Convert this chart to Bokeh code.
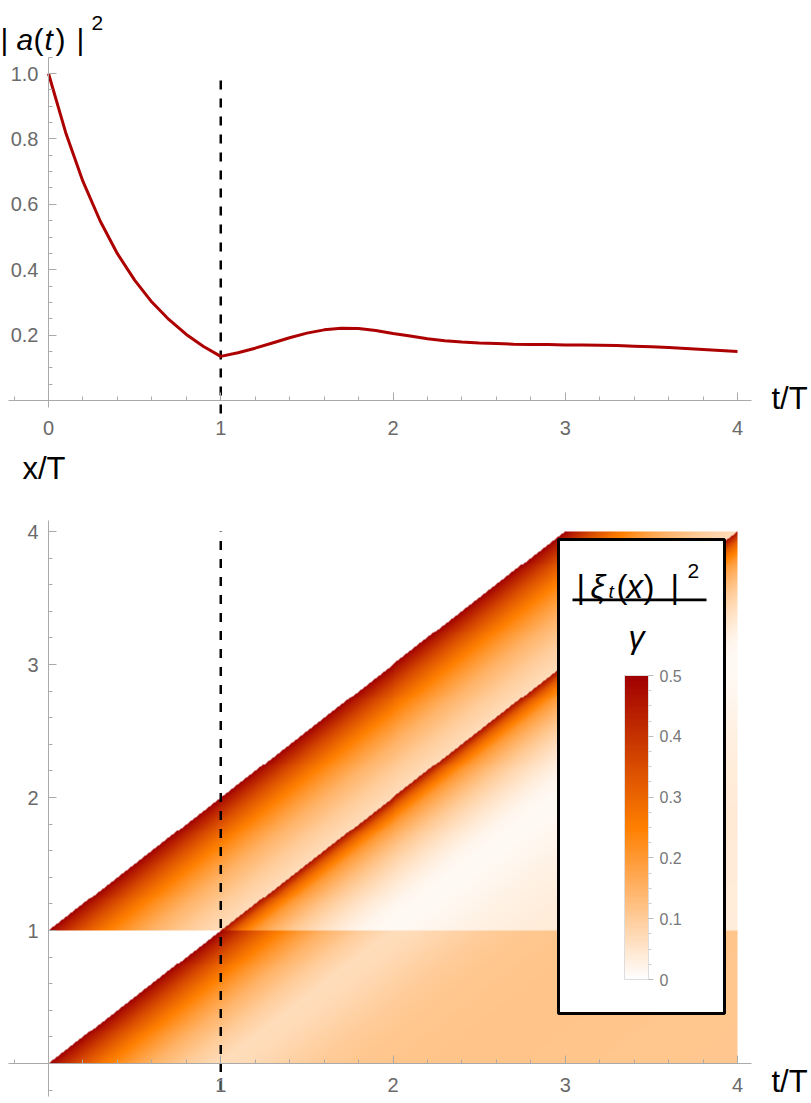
import numpy as np
from bokeh.plotting import figure
from bokeh.layouts import column
from bokeh.models import (Range1d, FixedTicker, LinearColorMapper, ColorBar,
                          BoxAnnotation, Label)
from bokeh.embed import file_html
from bokeh.resources import INLINE

# ---------------- data ----------------
t_curve = [0.0, 0.1, 0.2, 0.3, 0.4, 0.5, 0.6, 0.7, 0.8, 0.9, 1.0,
           1.1, 1.2, 1.3, 1.4, 1.5, 1.6, 1.7, 1.8, 1.9, 2.0,
           2.1, 2.2, 2.3, 2.4, 2.5, 2.6, 2.7, 2.8, 2.9, 3.0,
           3.1, 3.2, 3.3, 3.4, 3.5, 3.6, 3.7, 3.8, 3.9, 4.0]
a_sq = [1.000, 0.819, 0.670, 0.549, 0.449, 0.368, 0.301, 0.247, 0.202, 0.165, 0.135,
        0.146, 0.160, 0.176, 0.192, 0.206, 0.216, 0.221, 0.220, 0.214, 0.205,
        0.197, 0.189, 0.183, 0.179, 0.176, 0.174, 0.172, 0.171, 0.171, 0.170,
        0.170, 0.169, 0.168, 0.166, 0.164, 0.162, 0.159, 0.156, 0.153, 0.150]
delay_T = 1.0

# density |xi_t(x)|^2 / gamma as a function of the retardation (t - x) in each band
head_delay = [0.0, 0.05, 0.1, 0.15, 0.2, 0.3, 0.4, 0.5, 0.6, 0.7, 0.8, 0.9, 1.0]
head_density = [0.50, 0.45, 0.41, 0.37, 0.335, 0.275, 0.225, 0.185, 0.15, 0.125, 0.10, 0.083, 0.068]
lower_tail_delay = [1.0, 1.1, 1.2, 1.3, 1.4, 1.5, 1.6, 1.8, 2.0, 2.3, 2.6, 3.0, 3.5, 4.0]
lower_tail_density = [0.068, 0.070, 0.075, 0.082, 0.090, 0.097, 0.103, 0.110, 0.114, 0.116, 0.116, 0.114, 0.112, 0.110]
upper_tail_delay = [1.0, 1.03, 1.07, 1.12, 1.2, 1.3, 1.4, 1.5, 1.6, 1.7, 1.8, 1.9, 2.0, 2.1, 2.3, 2.5, 2.8, 3.1, 3.5, 4.0]
upper_tail_density = [0.47, 0.41, 0.33, 0.27, 0.20, 0.15, 0.11, 0.08, 0.055, 0.035, 0.02, 0.013, 0.012, 0.014, 0.022, 0.030, 0.038, 0.042, 0.040, 0.036]
t_max, x_max = 4.0, 4.0

top_xticks = [0, 1, 2, 3, 4]
top_yticks = [0.2, 0.4, 0.6, 0.8, 1.0]
bot_xticks = [1, 2, 3, 4]
bot_yticks = [1, 2, 3, 4]
cbar_ticks = [0.0, 0.1, 0.2, 0.3, 0.4, 0.5]
t_minor = [round(0.2 * k, 2) for k in range(-1, 21) if k % 5]
v_minor = [round(0.05 * k, 2) for k in range(0, 22) if k % 4]
x_minor = [round(0.2 * k, 2) for k in range(-1, 21) if k % 5]
cbar_minor = [round(0.025 * k, 3) for k in range(0, 21) if k % 4]

# ---------------- layout constants (reference pixels) ----------------
X0_PX, T_PX = 48.0, 172.25
TOP_Y0_PX, V_PX = 400.0, 327.0
BOT_Y0_PX, X_PX = 1063.0, 133.0
FIG_L, FIG_R = 0, 811
TOP_T, TOP_B = 0, 445
BOT_T, BOT_B = 445, 1103


def t_of(px):
    return (px - X0_PX) / T_PX


def v_of(py):
    return (TOP_Y0_PX - py) / V_PX


def x_of(py):
    return (BOT_Y0_PX - py) / X_PX


SANS = "Liberation Sans"
AX = "#aaaaaa"
TXT = "#6a6a6a"


def style_axis(ax, ticks, minor, bounds, standoff, overrides=None):
    ax.fixed_location = 0
    ax.ticker = FixedTicker(ticks=ticks, minor_ticks=minor)
    ax.bounds = bounds
    if overrides:
        ax.major_label_overrides = overrides
    ax.axis_line_color = AX
    ax.axis_line_width = 1
    ax.major_tick_line_color = AX
    ax.minor_tick_line_color = AX
    ax.major_tick_in = 8
    ax.major_tick_out = 0
    ax.minor_tick_in = 4
    ax.minor_tick_out = 0
    ax.major_label_text_color = TXT
    ax.major_label_text_font = SANS
    ax.major_label_text_font_size = "20px"
    ax.major_label_standoff = standoff


def lab(p, text, x, y, size, italic=False, align="left", baseline="alphabetic", color="black"):
    p.add_layout(Label(x=x, y=y, text=text, text_font=SANS, text_font_size=f"{size}px",
                       text_font_style="italic" if italic else "normal",
                       text_align=align, text_baseline=baseline, text_color=color))


# ---------------- top figure ----------------
top = figure(width=FIG_R - FIG_L, height=TOP_B - TOP_T,
             x_range=Range1d(t_of(FIG_L), t_of(FIG_R)),
             y_range=Range1d(v_of(TOP_B), v_of(TOP_T)),
             output_backend="svg", toolbar_location=None, min_border=0)
top.grid.visible = False
top.outline_line_color = None
style_axis(top.xaxis[0], top_xticks, t_minor, (-0.23, 4.08), 20)
style_axis(top.yaxis[0], top_yticks, v_minor, (-0.02, 1.05), 10,
           {0.2: "0.2", 0.4: "0.4", 0.6: "0.6", 0.8: "0.8", 1.0: "1.0"})

top.line([delay_T, delay_T], [-0.04, 0.99], line_color="black", line_width=2.5, line_dash="9 9")
top.line(t_curve, a_sq, line_color="#ad0000", line_width=3)

# y label |a(t)|^2
for txt, px, it in [("|", 0, False), ("a", 16, True), ("(", 33, False), ("t", 44, True),
                    (")", 55, False), ("|", 76, False)]:
    lab(top, txt, t_of(px), v_of(39), 30, italic=it)
lab(top, "2", t_of(91), v_of(22), 21)
lab(top, "t/T", t_of(771), v_of(398), 31, baseline="middle")

# ---------------- bottom figure ----------------
bot = figure(width=FIG_R - FIG_L, height=BOT_B - BOT_T,
             x_range=Range1d(t_of(FIG_L), t_of(FIG_R)),
             y_range=Range1d(x_of(BOT_B), x_of(BOT_T)),
             output_backend="svg", toolbar_location=None, min_border=0)
bot.grid.visible = False
bot.outline_line_color = None
style_axis(bot.xaxis[0], bot_xticks, t_minor, (-0.23, 4.08), 14)
style_axis(bot.yaxis[0], bot_yticks, x_minor, (-0.25, 4.08), 10)

# colour map white -> orange -> dark red
anchors = [(255, 255, 255), (255, 128, 0), (160, 0, 0)]
palette = []
for i in range(256):
    f = i / 255 * 2
    k = min(int(f), 1)
    u = f - k
    c = [round(anchors[k][j] + (anchors[k + 1][j] - anchors[k][j]) * u) for j in range(3)]
    palette.append("#%02x%02x%02x" % tuple(c))
mapper = LinearColorMapper(palette=palette, low=0.0, high=0.5, nan_color=(0, 0, 0, 0))

nx, ny = 690, 540
tc = (np.arange(nx) + 0.5) * t_max / nx
xc = (np.arange(ny) + 0.5) * x_max / ny
TT, XX = np.meshgrid(tc, xc)
dens = np.full(TT.shape, np.nan)
lower_delay = head_delay + lower_tail_delay[1:]
lower_dens = head_density + lower_tail_density[1:]
tau = TT - XX
m_low = (XX < 1) & (tau >= 0)
dens[m_low] = np.interp(tau[m_low], lower_delay, lower_dens)
sig = TT - XX + 1
m_uh = (XX >= 1) & (sig >= 0) & (sig < 1)
m_ut = (XX >= 1) & (sig >= 1)
dens[m_uh] = np.interp(sig[m_uh], head_delay, head_density)
dens[m_ut] = np.interp(sig[m_ut], upper_tail_delay, upper_tail_density)

bot.image(image=[dens.astype(np.float32)], x=0, y=0, dw=t_max, dh=x_max, color_mapper=mapper)
bot.line([delay_T, delay_T], [-0.2, 4.0], line_color="black", line_width=2.5, line_dash="9 9")

# legend box
bot.add_layout(BoxAnnotation(left=t_of(558), right=t_of(724), top=x_of(539), bottom=x_of(1013),
                             fill_color="white", fill_alpha=1.0,
                             line_color="black", line_alpha=1.0, line_width=3))
bot.add_layout(BoxAnnotation(left=t_of(572), right=t_of(706), top=x_of(598), bottom=x_of(600.7),
                             fill_color="black", fill_alpha=1.0, line_color=None))
for txt, px, it in [("|", 576, False), ("\u03be", 590, True), ("(", 616, False), ("x", 626, True),
                    (")", 643, False), ("|", 670, False)]:
    lab(bot, txt, t_of(px), x_of(586), 33, italic=it)
lab(bot, "t", t_of(608), x_of(591), 19, italic=True)
lab(bot, "2", t_of(687), x_of(570), 21)
lab(bot, "\u03b3", t_of(636), x_of(636), 32, italic=True, align="center")

cb = ColorBar(color_mapper=mapper, location=(624 - FIG_L, BOT_B - 979), orientation="vertical",
              width=24, height=304, padding=0, margin=0,
              ticker=FixedTicker(ticks=cbar_ticks, minor_ticks=cbar_minor),
              major_label_overrides={0.0: "0", 0.1: "0.1", 0.2: "0.2", 0.3: "0.3", 0.4: "0.4", 0.5: "0.5"},
              major_label_text_font=SANS, major_label_text_font_size="16px",
              major_label_text_color="#777777", label_standoff=6,
              major_tick_line_color="#bbbbbb", major_tick_in=0, major_tick_out=5,
              minor_tick_line_color="#cccccc", minor_tick_in=0, minor_tick_out=3,
              bar_line_color="#dddddd", background_fill_alpha=0, border_line_color=None)
bot.add_layout(cb)

lab(bot, "t/T", t_of(771), x_of(1081), 31, baseline="middle")
lab(bot, "x/T", t_of(22), x_of(468), 31, baseline="middle")

layout = column(top, bot, spacing=0)
open("out.html", "w").write(file_html(layout, INLINE))
